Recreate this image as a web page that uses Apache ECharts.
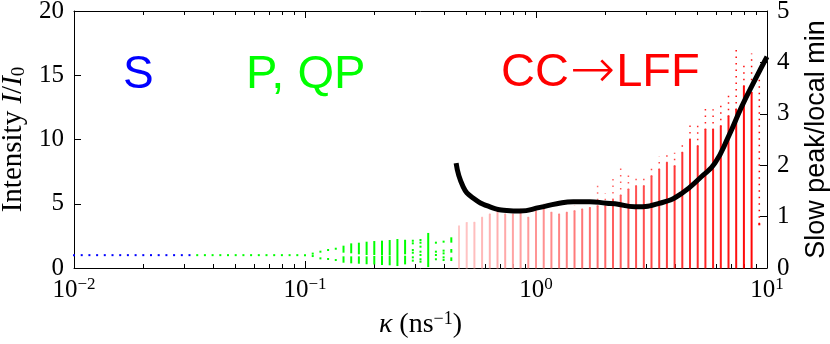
<!DOCTYPE html>
<html>
<head>
<meta charset="utf-8">
<script src="https://cdn.jsdelivr.net/npm/echarts@6/dist/echarts.min.js"></script>
<style>
  html, body { margin: 0; padding: 0; background: #fff; }
  #chart { width: 830px; height: 344px; }
</style>
</head>
<body>
<div id="chart"></div>
<script>
// kappa sampling grid (ns^-1)
const kappa = [
  0.01, 0.0108, 0.01166, 0.01259, 0.01359, 0.01468, 0.01585, 0.01711, 0.01848, 0.01995,
  0.02154, 0.02326, 0.02512, 0.02712, 0.02929, 0.03162, 0.03415, 0.03687, 0.03981, 0.04299,
  0.04642, 0.05012, 0.05412, 0.05843, 0.0631, 0.06813, 0.07356, 0.07943, 0.08577, 0.09261,
  0.1, 0.108, 0.1166, 0.1259, 0.1359, 0.1468, 0.1585, 0.1711, 0.1848, 0.1995,
  0.2154, 0.2326, 0.2512, 0.2712, 0.2929, 0.3162, 0.3415, 0.3687, 0.3981, 0.4299,
  0.4642, 0.5012, 0.5412, 0.5843, 0.631, 0.6813, 0.7356, 0.7943, 0.8577, 0.9261,
  1.0, 1.08, 1.166, 1.259, 1.359, 1.468, 1.585, 1.711, 1.848, 1.995,
  2.154, 2.326, 2.512, 2.712, 2.929, 3.162, 3.415, 3.687, 3.981, 4.299,
  4.642, 5.012, 5.412, 5.843, 6.31, 6.813, 7.356, 7.943, 8.577, 9.261
]

// S regime: steady intensity (first 16 columns)
const blueLevel = [1, 1, 1, 1, 1, 1, 1, 1, 1, 1, 1, 1, 1, 1, 1, 1]

// P, QP regime: intensity bands [lo, hi] for columns 16..49
const greenBands = [
  [[1, 1]], [[1, 1]], [[1, 1]], [[1, 1]], [[1, 1]],
  [[1, 1]], [[1, 1]], [[1, 1]], [[1, 1]], [[1, 1]],
  [[1, 1]], [[1, 1]], [[1, 1]], [[1, 1]], [[1, 1]],
  [[1.12, 1.12], [0.93, 0.93]],
  [[1.27, 1.27], [0.75, 0.75]],
  [[1.40, 1.40], [0.70, 0.70]],
  [[1.50, 1.50], [0.62, 0.62]],
  [[1.27, 1.66], [0.49, 0.83]],
  [[1.22, 1.84], [0.44, 0.83]],
  [[1.14, 1.89], [0.41, 0.83]],
  [[1.09, 1.97], [0.37, 0.83]],
  [[1.09, 2.02], [0.35, 0.86]],
  [[1.07, 2.05], [0.31, 0.88]],
  [[1.07, 2.10], [0.29, 0.88]],
  [[0.23, 2.18]],
  [[1.14, 2.12], [0.36, 0.88]],
  [[2.12, 2.12], [1.92, 1.92], [1.40, 1.40], [1.19, 1.19], [0.83, 0.83], [0.57, 0.57]],
  [[2.18, 2.18], [1.97, 1.97], [1.66, 1.66], [1.27, 1.27], [1.01, 1.01], [0.68, 0.68], [0.49, 0.49]],
  [[0.15, 2.65]],
  [[1.97, 1.97], [1.27, 1.27], [1.01, 1.01], [0.68, 0.68]],
  [[2.05, 2.05], [1.35, 1.35], [1.14, 1.14], [0.83, 0.83], [0.62, 0.62]],
  [[2.05, 2.31], [1.27, 1.40], [0.62, 0.75]]
]

// CC -> LFF regime, columns 50..89: dense part [low, top], sparse peaks up to max
const redLow = [
  0.05, 0.05, 0.05, 0.05, 0.05, 0.05, 0.05, 0.05, 0.05, 0.05,
  0.05, 0.05, 0.05, 0.05, 0.05, 0.05, 0.05, 0.05, 0.05, 0.05,
  0.05, 0.05, 0.05, 0.05, 0.05, 0.05, 0.05, 0.05, 0.05, 0.05,
  0.05, 0.05, 0.05, 0.05, 0.05, 0.05, 0.05, 0.05, 0.05, 3.40
]
const redTop = [
  3.21, 3.48, 3.48, 3.87, 4.12, 4.38, 4.12, 4.12, 4.51, 3.87,
  4.38, 4.51, 4.26, 4.12, 4.26, 4.38, 4.51, 4.64, 4.77, 4.77,
  5.29, 5.60, 6.07, 6.33, 6.33, 7.10, 7.63, 8.15, 7.88, 8.93,
  9.96, 9.44, 10.74, 10.74, 11.00, 11.77, 12.30, 14.10, 13.60, 3.40
]
const redMax = [
  3.30, 3.55, 3.87, 4.12, 4.51, 4.55, 4.51, 4.30, 4.77, 4.26,
  4.77, 5.03, 4.77, 4.51, 4.77, 4.90, 5.16, 5.03, 6.46, 5.81,
  7.00, 7.76, 7.37, 7.24, 7.31, 7.94, 8.66, 8.97, 8.97, 9.57,
  11.20, 11.13, 12.68, 12.35, 12.68, 13.46, 17.35, 16.00, 16.70, 14.90
]

// slow peak / local min ratio (right axis)
const slowKappa = [0.451, 0.484, 0.534, 0.632, 0.747, 0.853, 1.04, 1.23, 1.45, 1.71, 2.02, 2.20, 2.68, 3.50, 4.27, 5.21, 5.95, 6.80, 7.77, 8.87, 10]
const slowVal = [2.04, 1.58, 1.36, 1.19, 1.12, 1.11, 1.18, 1.25, 1.29, 1.29, 1.26, 1.25, 1.19, 1.27, 1.45, 1.78, 2.04, 2.55, 3.14, 3.66, 4.11]

const majorTicks = [0.01, 0.1, 1, 10]
const minorTicks = [0.02, 0.03, 0.04, 0.05, 0.06, 0.07, 0.08, 0.09,
  0.2, 0.3, 0.4, 0.5, 0.6, 0.7, 0.8, 0.9, 2, 3, 4, 5, 6, 7, 8, 9]

const SERIF = '"Liberation Serif", "Times New Roman", serif'
const SANS = '"Liberation Sans", Arial, sans-serif'

const blueData = blueLevel.map((v, j) => [kappa[j], v, v])
const greenData = []
greenBands.forEach((bands, j) => {
  bands.forEach(b => greenData.push([kappa[16 + j], b[0], b[1]]))
})
const redData = redTop.map((t, j) => [kappa[50 + j], redLow[j], t, redMax[j]])
const slowData = slowKappa.map((k, j) => [k, slowVal[j]])

function bandRender(color) {
  return function (params, api) {
    const p1 = api.coord([api.value(0), api.value(1)])
    const p2 = api.coord([api.value(0), api.value(2)])
    const h = Math.max(p1[1] - p2[1], 0)
    return {
      type: 'rect',
      shape: { x: p1[0] - 1, y: p2[1] - 1, width: 2, height: h + 2 },
      style: { fill: color }
    }
  }
}

function redRender(params, api) {
  const t = params.dataIndex / (redTop.length - 1)
  const c = Math.round(200 * (1 - t))
  const color = 'rgb(255,' + c + ',' + c + ')'
  const pLo = api.coord([api.value(0), api.value(1)])
  const pTop = api.coord([api.value(0), api.value(2)])
  const pMax = api.coord([api.value(0), api.value(3)])
  return {
    type: 'group',
    children: [{
      type: 'rect',
      shape: { x: pLo[0] - 1, y: pTop[1] - 1, width: 2, height: Math.max(pLo[1] - pTop[1], 0) + 2 },
      style: { fill: color }
    }, {
      type: 'line',
      shape: { x1: pTop[0], y1: pTop[1], x2: pMax[0], y2: pMax[1] },
      style: { stroke: color, lineWidth: 1.5, lineDash: [1.5, 5] }
    }]
  }
}

const xLabelRich = {
  b: { fontFamily: SERIF, fontSize: 25, color: '#000', lineHeight: 28 },
  e: { fontFamily: SERIF, fontSize: 17, color: '#000', verticalAlign: 'top', lineHeight: 17 }
}

const myChart = echarts.init(document.getElementById('chart'))

const option = {
  backgroundColor: '#fff',
  animation: false,
  grid: { left: 74, right: 63, top: 11, bottom: 76, outerBoundsMode: 'none', containLabel: false },
  graphic: [
    { type: 'text', left: 123, top: 52, style: { text: 'S', fill: '#0000ff', font: '46px ' + SANS } },
    { type: 'text', left: 246, top: 52, style: { text: 'P, QP', fill: '#00ff00', font: '47px ' + SANS } },
    {
      type: 'text', left: 501, top: 46,
      style: {
        text: '{a|CC}{b|\u2192}{a|LFF}',
        rich: {
          a: { fill: '#ff0000', font: '47px ' + SANS },
          b: { fill: '#ff0000', font: '300 54px "DejaVu Sans"', padding: [0, 1, 0, 1] }
        }
      }
    }
  ],
  xAxis: [{
    type: 'log', logBase: 10, min: 0.01, max: 10, position: 'bottom',
    axisLine: { lineStyle: { color: '#000', width: 1 } },
    axisTick: { inside: true, length: 7, lineStyle: { color: '#000' }, customValues: majorTicks },
    axisLabel: {
      customValues: majorTicks, margin: 8,
      formatter: v => '{b|10}{e|' + String(Math.round(Math.log10(v))).replace('-', '\u2212') + '}',
      rich: xLabelRich
    },
    splitLine: { show: false },
    name: '{i|\u03ba}{r| (ns}{e|\u22121}{r|)}',
    nameLocation: 'middle', nameGap: 42,
    nameTextStyle: {
      rich: {
        i: { fontFamily: SERIF, fontStyle: 'italic', fontSize: 28, color: '#000', lineHeight: 30 },
        r: { fontFamily: SERIF, fontSize: 28, color: '#000', lineHeight: 30 },
        e: { fontFamily: SERIF, fontSize: 18, color: '#000', verticalAlign: 'top', lineHeight: 18 }
      }
    }
  }, {
    type: 'log', logBase: 10, min: 0.01, max: 10, position: 'bottom',
    axisLine: { show: false },
    axisTick: { inside: true, length: 4, lineStyle: { color: '#000' }, customValues: minorTicks },
    axisLabel: { show: false },
    splitLine: { show: false }
  }, {
    type: 'log', logBase: 10, min: 0.01, max: 10, position: 'top',
    axisLine: { lineStyle: { color: '#000', width: 1 } },
    axisTick: { inside: true, length: 7, lineStyle: { color: '#000' }, customValues: majorTicks },
    axisLabel: { show: false },
    splitLine: { show: false }
  }, {
    type: 'log', logBase: 10, min: 0.01, max: 10, position: 'top',
    axisLine: { show: false },
    axisTick: { inside: true, length: 4, lineStyle: { color: '#000' }, customValues: minorTicks },
    axisLabel: { show: false },
    splitLine: { show: false }
  }],
  yAxis: [{
    type: 'value', min: 0, max: 20, interval: 5, position: 'left',
    axisLine: { show: true, lineStyle: { color: '#000', width: 1 } },
    axisTick: { show: true, inside: true, length: 7, lineStyle: { color: '#000' } },
    axisLabel: { fontFamily: SERIF, fontSize: 25, color: '#000', margin: 10 },
    splitLine: { show: false },
    name: '{r|Intensity }{i|I}{r|/}{i|I}{s|0}',
    nameLocation: 'middle', nameRotate: 90, nameGap: 45,
    nameTextStyle: {
      rich: {
        r: { fontFamily: SERIF, fontSize: 29, color: '#000', lineHeight: 30 },
        i: { fontFamily: SERIF, fontStyle: 'italic', fontSize: 29, color: '#000', lineHeight: 30 },
        s: { fontFamily: SERIF, fontSize: 19, color: '#000', verticalAlign: 'bottom', lineHeight: 22 }
      }
    }
  }, {
    type: 'value', min: 0, max: 5, interval: 1, position: 'right',
    axisLine: { show: true, lineStyle: { color: '#000', width: 1 } },
    axisTick: { show: true, inside: true, length: 7, lineStyle: { color: '#000' } },
    axisLabel: { fontFamily: SERIF, fontSize: 25, color: '#000', margin: 10 },
    splitLine: { show: false },
    name: 'Slow peak/local min',
    nameLocation: 'middle', nameRotate: 90, nameGap: 36,
    nameTextStyle: { fontFamily: SANS, fontSize: 27, color: '#000' }
  }],
  series: [{
    name: 'S',
    type: 'custom',
    xAxisIndex: 0, yAxisIndex: 0,
    renderItem: bandRender('#0000ff'),
    data: blueData
  }, {
    name: 'P, QP',
    type: 'custom',
    xAxisIndex: 0, yAxisIndex: 0,
    renderItem: bandRender('#00ff00'),
    data: greenData
  }, {
    name: 'CC-LFF',
    type: 'custom',
    xAxisIndex: 0, yAxisIndex: 0,
    renderItem: redRender,
    data: redData
  }, {
    name: 'slow',
    type: 'line',
    xAxisIndex: 0, yAxisIndex: 1,
    smooth: true,
    symbol: 'none',
    lineStyle: { color: '#000', width: 5 },
    data: slowData,
    z: 5
  }]
}

myChart.setOption(option)
</script>
</body>
</html>
